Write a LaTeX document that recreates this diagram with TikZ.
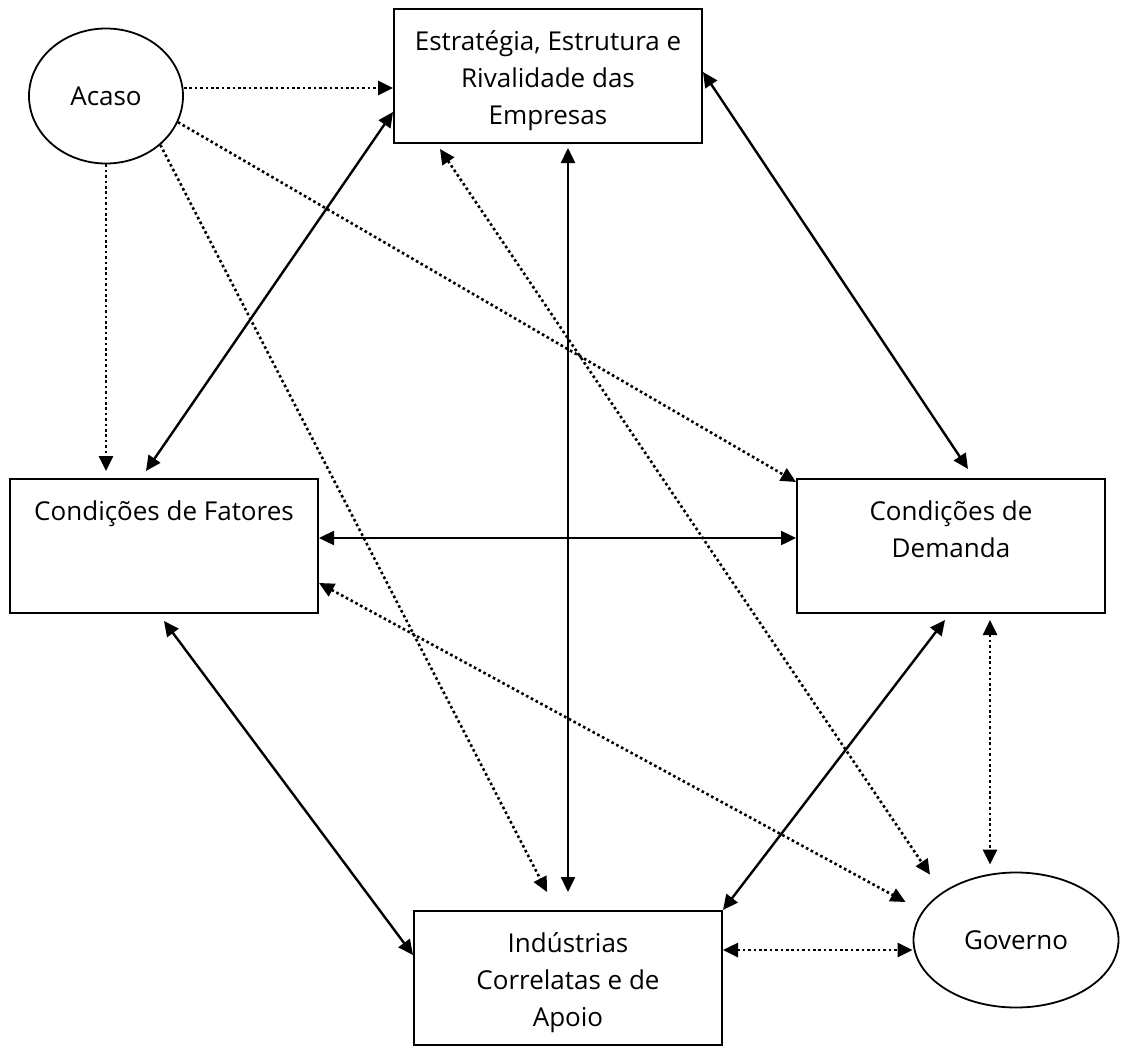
\documentclass[tikz,border=0pt]{standalone}
\usepackage{fontspec}
\setmainfont{Open Sans}
\usetikzlibrary{arrows.meta,shapes.geometric}

\tikzset{
  caixa/.style={draw, line width=2pt, minimum width=308pt, minimum height=134pt, inner sep=0pt},
  elipse/.style={draw, ellipse, line width=1.8pt, inner sep=0pt, font=\fontsize{26}{37}\selectfont},
  rotulo/.style={align=center, inner sep=0pt, anchor=north, font=\fontsize{26}{37}\selectfont},
  ponta/.tip={Triangle[length=15pt,width=14pt]},
  liga/.style={line width=2.4pt, ponta-ponta},
  pontilhado/.style={line width=2.6pt, dash pattern=on 2.6pt off 2.8pt},
}

\begin{document}
\begin{tikzpicture}[x=1pt,y=-1pt]
            \useasboundingbox (0,0) rectangle (1121,1046);

            \node[elipse, minimum width=154pt, minimum height=135pt] (acaso) at (106,96) {Acaso};
            \node[caixa] (estrategia) at (548,76) {};
            \node[caixa] (fatores) at (164,546) {};
            \node[caixa] (demanda) at (951,546) {};
            \node[caixa] (industrias) at (568,978) {};
            \node[elipse, minimum width=205pt, minimum height=135pt] (governo) at (1016,940) {Governo};

            \node[rotulo] (estrategia-t) at ([yshift=-16pt]estrategia.north) {\rule{0pt}{26pt}Estratégia, Estrutura e\\Rivalidade das\\Empresas};
            \node[rotulo] (fatores-t) at ([yshift=-16pt]fatores.north) {\rule{0pt}{26pt}Condições de Fatores};
            \node[rotulo] (demanda-t) at ([yshift=-16pt]demanda.north) {\rule{0pt}{26pt}Condições de\\Demanda};
            \node[rotulo] (industrias-t) at ([yshift=-16pt]industrias.north) {\rule{0pt}{26pt}Indústrias\\Correlatas e de\\Apoio};

            \draw[pontilhado, -ponta] ([yshift=8pt]acaso.east) -- ([yshift=-12pt]estrategia.west);
            \draw[pontilhado, -ponta] (acaso.south) -- ([xshift=-58pt,yshift=7pt]fatores.north);
            \draw[pontilhado, -ponta] (acaso.-20) -- ([yshift=-4pt]demanda.north west);
            \draw[pontilhado, -ponta] (acaso.-42) -- ([xshift=-21pt,yshift=18pt]industrias.north);

            \draw[liga] ([yshift=-36pt]estrategia.west) -- ([xshift=-18pt,yshift=7pt]fatores.north);
            \draw[liga] ([yshift=4pt]estrategia.east) -- ([xshift=17pt,yshift=9pt]demanda.north);
            \draw[liga] ([xshift=20pt,yshift=-4pt]estrategia.south) -- ([yshift=18pt]industrias.north);
            \draw[liga] ([yshift=8pt]fatores.east) -- ([yshift=8pt]demanda.west);
            \draw[liga] ([yshift=-7pt]fatores.south) -- ([yshift=23pt]industrias.west);
            \draw[liga] ([xshift=-6pt,yshift=-6pt]demanda.south) -- (industrias.north east);

            \draw[pontilhado, ponta-ponta] ([xshift=-108pt,yshift=-5pt]estrategia.south) -- ([xshift=-86pt,yshift=-3pt]governo.north);
            \draw[pontilhado, ponta-ponta] ([yshift=-37pt]fatores.east) -- ([xshift=-7pt,yshift=38pt]governo.west);
            \draw[pontilhado, ponta-ponta] ([xshift=39pt,yshift=-6pt]demanda.south) -- ([xshift=-26pt,yshift=7pt]governo.north);
            \draw[pontilhado, ponta-ponta] ([yshift=28pt]industrias.east) -- ([yshift=-10pt]governo.west);
\end{tikzpicture}
\end{document}
